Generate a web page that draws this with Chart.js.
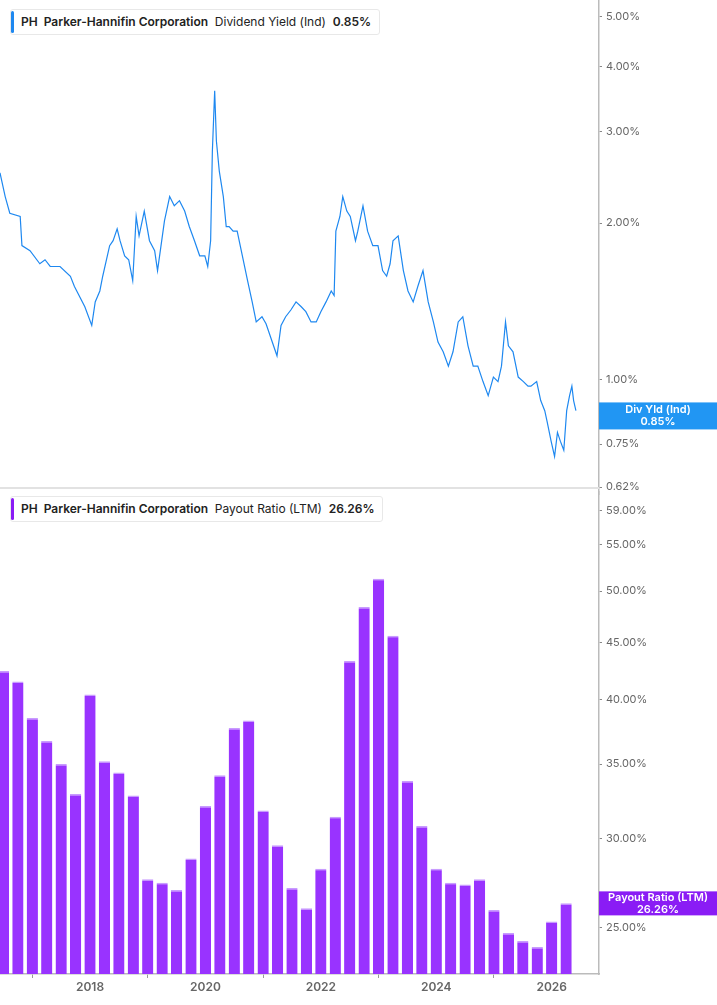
<!DOCTYPE html>
<html><head><meta charset="utf-8">
<script src="https://cdn.jsdelivr.net/npm/chart.js@4"></script>
<style>
body{margin:0;background:#fff;font-family:Inter,"Noto Sans",sans-serif;overflow:hidden;}
#w1{position:absolute;left:0;top:-10px;width:717px;height:515px;}
#w2{position:absolute;left:0;top:481px;width:717px;height:524px;}
#sep{position:absolute;left:0;top:487px;width:599px;height:2px;background:#e2e2e2;}
.leg{position:absolute;left:10px;height:24px;background:#fff;border:1px solid #e8e8e8;border-radius:3px;font-size:12px;line-height:24px;color:#222;padding:0 8px 0 10px;white-space:nowrap;}
.leg i{position:absolute;left:0;top:1px;bottom:1px;width:3px;border-radius:2px;}
.leg b{font-weight:600;}
</style></head><body>
<div id="w1"><canvas id="c1"></canvas></div>
<div id="w2"><canvas id="c2"></canvas></div>
<div id="sep"></div>
<div class="leg" style="top:9px"><i style="background:#1e88f0"></i><b>PH&nbsp;&nbsp;Parker-Hannifin Corporation</b>&nbsp;&nbsp;Dividend Yield (Ind)&nbsp;&nbsp;<b>0.85%</b></div>
<div class="leg" style="top:496px"><i style="background:#8a1cf5"></i><b>PH&nbsp;&nbsp;Parker-Hannifin Corporation</b>&nbsp;&nbsp;Payout Ratio (LTM)&nbsp;&nbsp;<b>26.26%</b></div>
<script>
// Dividend yield (%), x as decimal year
const yieldYears=[2016.44,2016.53,2016.61,2016.79,2016.82,2016.96,2017.13,2017.22,2017.31,2017.48,2017.66,2017.73,2017.91,2018.03,2018.09,2018.17,2018.22,2018.34,2018.40,2018.47,2018.52,2018.60,2018.67,2018.74,2018.80,2018.85,2018.94,2019.03,2019.12,2019.17,2019.29,2019.38,2019.46,2019.55,2019.64,2019.72,2019.81,2019.90,2019.99,2020.04,2020.09,2020.12,2020.16,2020.19,2020.24,2020.31,2020.36,2020.41,2020.48,2020.55,2020.64,2020.73,2020.81,2020.88,2020.98,2021.05,2021.24,2021.31,2021.39,2021.48,2021.57,2021.66,2021.74,2021.83,2021.92,2022.00,2022.09,2022.18,2022.23,2022.26,2022.33,2022.38,2022.45,2022.51,2022.60,2022.64,2022.73,2022.81,2022.90,2022.99,2023.07,2023.14,2023.20,2023.25,2023.34,2023.43,2023.51,2023.60,2023.68,2023.77,2023.86,2023.95,2024.03,2024.12,2024.21,2024.29,2024.38,2024.46,2024.55,2024.64,2024.72,2024.81,2024.90,2024.99,2025.07,2025.13,2025.20,2025.25,2025.33,2025.42,2025.51,2025.59,2025.64,2025.74,2025.81,2025.88,2025.92,2025.99,2026.05,2026.10,2026.15,2026.21,2026.26,2026.31,2026.35,2026.38,2026.42,2026.45];
const yieldValues=[2.50,2.25,2.09,2.06,1.81,1.77,1.67,1.70,1.65,1.65,1.58,1.51,1.38,1.27,1.41,1.48,1.58,1.81,1.85,1.95,1.85,1.73,1.70,1.55,2.06,1.89,2.11,1.85,1.77,1.62,2.02,2.25,2.16,2.21,2.11,1.97,1.85,1.73,1.73,1.65,1.85,2.75,3.60,2.88,2.52,2.25,1.97,1.97,1.93,1.93,1.73,1.55,1.41,1.29,1.32,1.28,1.11,1.27,1.32,1.36,1.41,1.38,1.35,1.29,1.29,1.35,1.41,1.48,1.45,1.93,2.06,2.25,2.11,2.06,1.85,1.93,2.16,1.93,1.81,1.81,1.62,1.58,1.67,1.85,1.89,1.62,1.48,1.41,1.51,1.62,1.41,1.29,1.18,1.13,1.06,1.13,1.29,1.32,1.16,1.06,1.06,0.99,0.93,1.01,0.99,1.06,1.29,1.16,1.13,1.01,0.99,0.97,0.97,0.99,0.91,0.87,0.83,0.76,0.71,0.79,0.76,0.73,0.87,0.93,0.97,0.91,0.87];
const yieldTicks=[0.62,0.75,1,2,3,4,5];
// Payout ratio (LTM, %), quarterly
const payoutYears=[2016.50,2016.75,2017.00,2017.25,2017.50,2017.75,2018.00,2018.25,2018.50,2018.75,2019.00,2019.25,2019.50,2019.75,2020.00,2020.25,2020.50,2020.75,2021.00,2021.25,2021.50,2021.75,2022.00,2022.25,2022.50,2022.75,2023.00,2023.25,2023.50,2023.75,2024.00,2024.25,2024.50,2024.75,2025.00,2025.25,2025.50,2025.75,2026.00,2026.25];
const payoutValues=[42.4,41.5,38.5,36.7,35.0,32.9,40.4,35.2,34.4,32.8,27.6,27.4,27.0,28.8,32.1,34.2,37.7,38.3,31.8,29.6,27.1,26.0,28.2,31.4,43.3,48.4,51.3,45.6,33.8,30.8,28.2,27.4,27.3,27.6,25.9,24.7,24.3,24.0,25.3,26.26];
const payoutTicks=[25,30,35,40,45,50,55,59];
const yearTicks=[2018,2020,2022,2024,2026];

const XMIN=2016.44,XMAX=2026.82;
const tickFont={family:'Inter',size:11};
function yAxis(min,max,ticks){return{type:'logarithmic',position:'right',min,max,
  afterBuildTicks:s=>{s.ticks=ticks.map(v=>({value:v}));},
  afterFit:s=>{s.width=118;},
  ticks:{color:'#666',font:tickFont,padding:4,callback:v=>v.toFixed(2)+'%'},
  grid:{display:true,drawOnChartArea:false,tickLength:3,color:'#888'},
  border:{display:true,color:'#bbb',width:1.5}};}
function tagPlugin(val,text,color,h){return{id:'tag',afterDraw(c){const s=c.scales.y,ctx=c.ctx;const y=s.getPixelForValue(val);
  ctx.save();ctx.fillStyle=color;ctx.fillRect(s.left,y-h/2,c.width-s.left,h);
  ctx.fillStyle='#fff';ctx.font='600 11px Inter';ctx.textAlign='center';ctx.textBaseline='middle';
  const cx=(s.left+c.width)/2;ctx.fillText(text[0],cx,y-6);ctx.fillText(text[1],cx,y+6);ctx.restore();}};}

new Chart(document.getElementById('c1'),{type:'line',
 data:{datasets:[{data:yieldYears.map((x,i)=>({x,y:yieldValues[i]})),borderColor:'#1e88f0',borderWidth:1.2,pointRadius:0,tension:0}]},
 options:{responsive:true,maintainAspectRatio:false,animation:false,layout:{padding:0},
  plugins:{legend:{display:false},tooltip:{enabled:false}},
  scales:{x:{type:'linear',min:XMIN,max:XMAX,display:false},y:yAxis(0.616,5.37,yieldTicks)}},
 plugins:[tagPlugin(0.85,['Div Yld (Ind)','0.85%'],'#2196f3',27)]});

new Chart(document.getElementById('c2'),{type:'bar',
 data:{datasets:[{data:payoutYears.map((x,i)=>({x,y:payoutValues[i]})),backgroundColor:'#9933ff',borderColor:'#c89bff',borderWidth:{top:1.5,left:0,right:0,bottom:0},borderSkipped:false,barPercentage:0.78,categoryPercentage:1}]},
 options:{responsive:true,maintainAspectRatio:false,animation:false,layout:{padding:0},
  plugins:{legend:{display:false},tooltip:{enabled:false}},
  scales:{x:{type:'linear',min:XMIN,max:XMAX,offset:false,
    afterBuildTicks:s=>{s.ticks=yearTicks.map(v=>({value:v}));},
    afterFit:s=>{s.height=31;},
    ticks:{color:'#666',font:{family:'Inter',size:12,weight:'600'},callback:v=>String(v),padding:2,maxRotation:0},
    grid:{display:true,drawOnChartArea:false,tickLength:4,color:'#999'},border:{display:true,color:'#bbb',width:1.5}},
   y:yAxis(22.7,61.4,payoutTicks)}},
 plugins:[tagPlugin(26.26,['Payout Ratio (LTM)','26.26%'],'#8a1cf5',24)]});
</script></body></html>
